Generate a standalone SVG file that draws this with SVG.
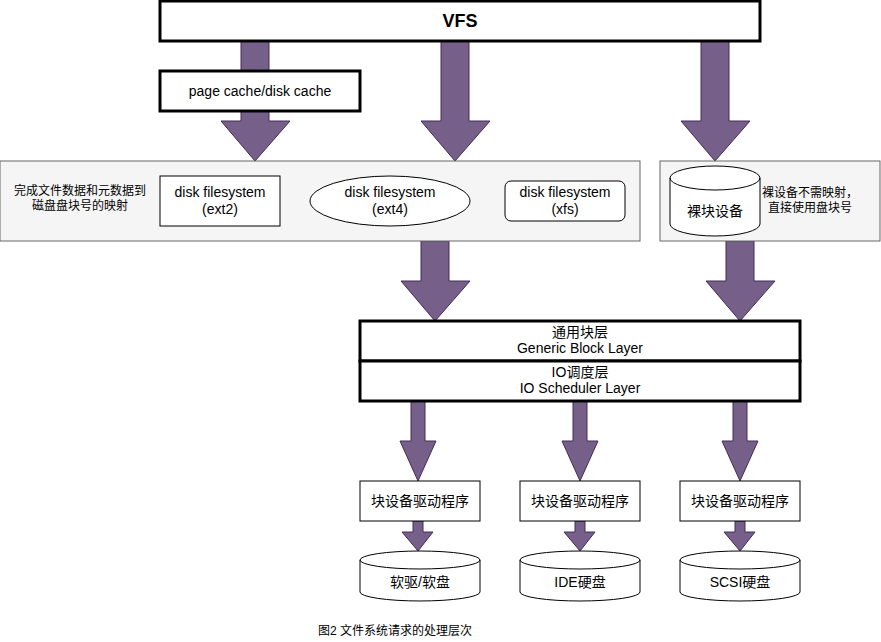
<svg xmlns="http://www.w3.org/2000/svg" width="881" height="642" viewBox="0 0 881 642">
<style>
text{font-family:"Liberation Sans","Noto Sans CJK SC",sans-serif;fill:#000;text-anchor:middle}
.t14{font-size:14px}
.t12{font-size:12px}
.thick{fill:#fff;stroke:#000;stroke-width:3}
.thin{fill:#fff;stroke:#000;stroke-width:1}
.panel{fill:#f5f5f5;stroke:#666;stroke-width:1}
.arr{fill:#76608a;stroke:#432d57;stroke-width:1}
</style>
<rect width="881" height="642" fill="#fff"/>
<g id="connectors">
<path class="arr" d="M241,41 H269 V121 H290 L255,161 L221,121 H241 Z"/>
<path class="arr" d="M441,41 H469 V121 H490 L455,161 L421,121 H441 Z"/>
<path class="arr" d="M701,41 H729 V121 H750 L715,161 L681,121 H701 Z"/>
<path class="arr" d="M421,241 H449 V281 H470 L435,321 L401,281 H421 Z"/>
<path class="arr" d="M726,241 H754 V281 H775 L740,321 L706,281 H726 Z"/>
<path class="arr" d="M411,401 H425 V441 H436 L418,481 L400,441 H411 Z"/>
<path class="arr" d="M573,401 H587 V441 H598 L580,481 L562,441 H573 Z"/>
<path class="arr" d="M733,401 H747 V441 H758 L740,481 L722,441 H733 Z"/>
<path class="arr" d="M413,521 H423 V532 H433 L418,551 L402,532 H413 Z"/>
<path class="arr" d="M575,521 H585 V532 H595 L580,551 L564,532 H575 Z"/>
<path class="arr" d="M735,521 H745 V532 H755 L740,551 L724,532 H735 Z"/>
</g>
<g id="vfs"><rect class="thick" x="160" y="1" width="600" height="40"/><text x="460" y="27" style="font-size:18px;font-weight:bold">VFS</text></g>
<g id="pagecache"><rect class="thick" x="160" y="71" width="200" height="40"/><text class="t14" x="260" y="96">page cache/disk cache</text></g>
<g id="panel-left"><rect class="panel" x="0" y="161" width="640" height="80"/></g>
<g id="panel-right"><rect class="panel" x="660" y="161" width="220" height="80"/></g>
<g id="mapping-note"><text class="t12" x="80" y="195">完成文件数据和元数据到</text><text class="t12" x="80" y="210">磁盘盘块号的映射</text></g>
<g id="ext2"><rect class="thin" x="160" y="176" width="120" height="50"/><text class="t14" x="220" y="197">disk filesystem</text><text class="t14" x="220" y="214">(ext2)</text></g>
<g id="ext4"><ellipse class="thin" cx="390" cy="201" rx="80" ry="25"/><text class="t14" x="390" y="197">disk filesystem</text><text class="t14" x="390" y="214">(ext4)</text></g>
<g id="xfs"><rect class="thin" x="505" y="181" width="120" height="40" rx="6"/><text class="t14" x="565" y="197">disk filesystem</text><text class="t14" x="565" y="214">(xfs)</text></g>
<g id="rawdev"><path class="thin" d="M670,178 A45,12 0 0 1 760,178 V224 A45,12 0 0 1 670,224 Z"/><path fill="none" stroke="#000" d="M670,178 A45,12 0 0 0 760,178"/><text class="t14" x="715" y="216">裸块设备</text></g>
<g id="raw-note"><text class="t12" x="810" y="197">裸设备不需映射，</text><text class="t12" x="810" y="212">直接使用盘块号</text></g>
<g id="generic"><rect class="thick" x="360" y="321" width="440" height="40"/><text class="t14" x="580" y="337">通用块层</text><text class="t14" x="580" y="353">Generic Block Layer</text></g>
<g id="iosched"><rect class="thick" x="360" y="361" width="440" height="40"/><text class="t14" x="580" y="377">IO调度层</text><text class="t14" x="580" y="393">IO Scheduler Layer</text></g>
<g id="drv1"><rect class="thin" x="360" y="481" width="120" height="40"/><text class="t14" x="420" y="506">块设备驱动程序</text></g>
<g id="drv2"><rect class="thin" x="520" y="481" width="120" height="40"/><text class="t14" x="580" y="506">块设备驱动程序</text></g>
<g id="drv3"><rect class="thin" x="680" y="481" width="120" height="40"/><text class="t14" x="740" y="506">块设备驱动程序</text></g>
<g id="disk1"><path class="thin" d="M360,560 A60,9 0 0 1 480,560 V592 A60,9 0 0 1 360,592 Z"/><path fill="none" stroke="#000" d="M360,560 A60,9 0 0 0 480,560"/><text class="t14" x="420" y="587">软驱/软盘</text></g>
<g id="disk2"><path class="thin" d="M520,560 A60,9 0 0 1 640,560 V592 A60,9 0 0 1 520,592 Z"/><path fill="none" stroke="#000" d="M520,560 A60,9 0 0 0 640,560"/><text class="t14" x="580" y="587">IDE硬盘</text></g>
<g id="disk3"><path class="thin" d="M680,560 A60,9 0 0 1 800,560 V592 A60,9 0 0 1 680,592 Z"/><path fill="none" stroke="#000" d="M680,560 A60,9 0 0 0 800,560"/><text class="t14" x="740" y="587">SCSI硬盘</text></g>
<g id="caption"><text class="t12" x="395" y="635">图2 文件系统请求的处理层次</text></g>
</svg>
